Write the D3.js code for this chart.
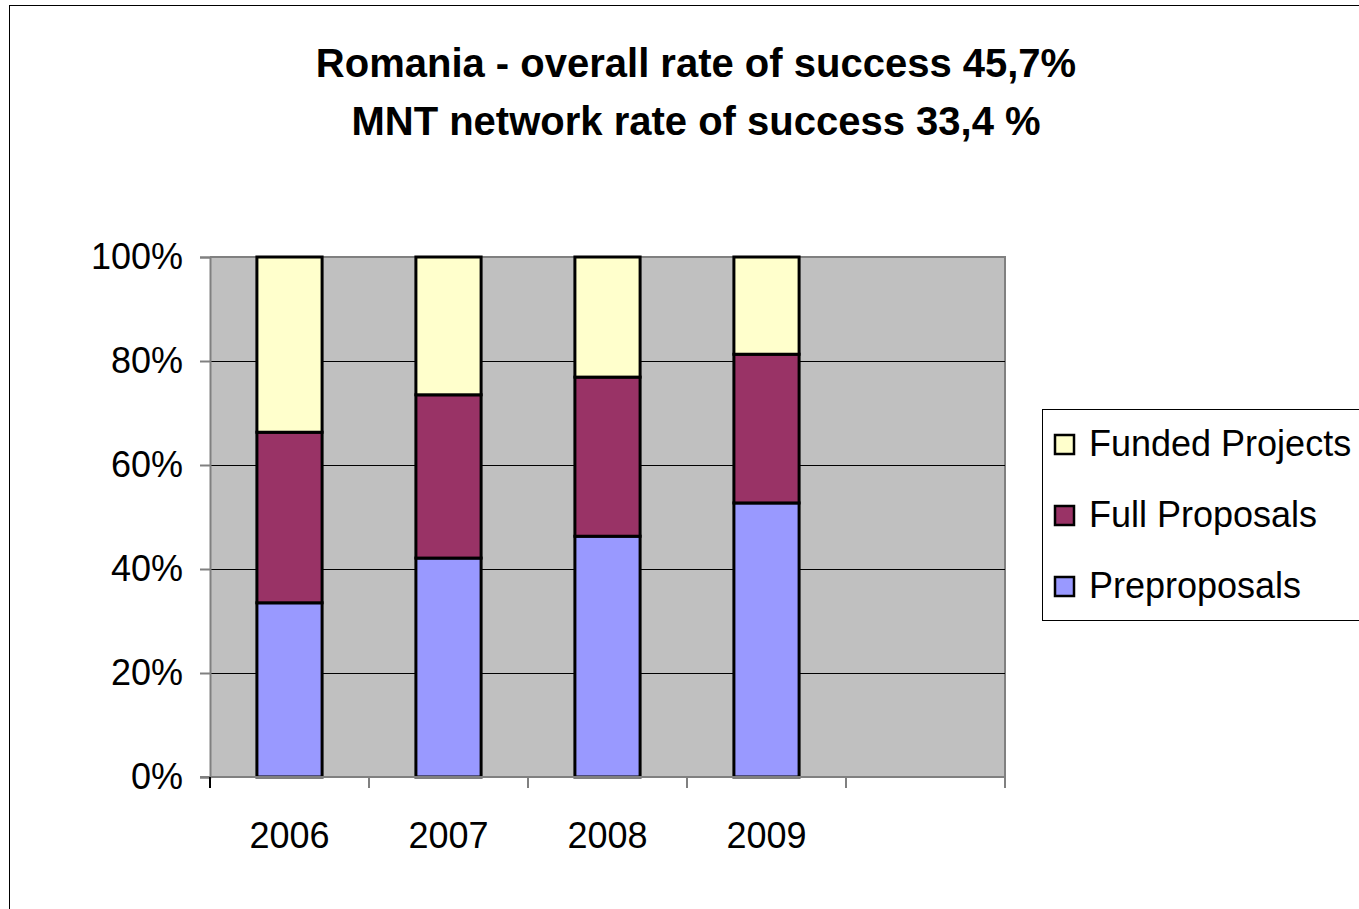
<!DOCTYPE html>
<html>
<head>
<meta charset="utf-8">
<script src="https://cdn.jsdelivr.net/npm/d3@7"></script>
<style>
  body { margin: 0; background: #fff; }
  svg { display: block; font-family: "Liberation Sans", Arial, sans-serif; }
</style>
</head>
<body>
<svg id="chart" width="1359" height="909"></svg>
<script>
// categories (the last slot is empty in the original)
const years = ["2006", "2007", "2008", "2009", ""];
const seriesNames = ["Preproposals", "Full Proposals", "Funded Projects"];
// percentage shares per year
const preproposals   = [33.5, 42.1, 46.3, 52.7];
const fullProposals  = [32.8, 31.4, 30.6, 28.6];
const fundedProjects = [33.7, 26.5, 23.1, 18.7];
const yTicks = [0, 20, 40, 60, 80, 100];
const colors = ["#9999ff", "#993366", "#ffffcc"];

const svg = d3.select("#chart");
const margin = { left: 210, top: 257, right: 1005, bottom: 777 };

// outer frame
svg.append("rect").attr("x", 9.5).attr("y", 5.5)
    .attr("width", 1400).attr("height", 1000)
    .attr("fill", "none").attr("stroke", "#000").attr("stroke-width", 1);

// title
const title = svg.append("text").attr("text-anchor", "middle")
    .attr("font-weight", "bold").attr("font-size", 40);
title.append("tspan").attr("x", 696).attr("y", 77).text("Romania - overall rate of success 45,7%");
title.append("tspan").attr("x", 696).attr("y", 135).text("MNT network rate of success 33,4 %");

const x = d3.scaleBand().domain(d3.range(years.length))
    .range([margin.left, margin.right]).paddingInner(0).paddingOuter(0);
const y = d3.scaleLinear().domain([0, 100]).range([margin.bottom, margin.top]);

// plot background
svg.append("rect").attr("x", margin.left).attr("y", margin.top)
    .attr("width", margin.right - margin.left).attr("height", margin.bottom - margin.top)
    .attr("fill", "#c0c0c0");
svg.append("path")
    .attr("d", `M${margin.left},${margin.top}H${margin.right}V${margin.bottom}`)
    .attr("fill", "none").attr("stroke", "#808080").attr("stroke-width", 2);

// gridlines
svg.append("g").selectAll("line").data(yTicks.filter(d => d > 0 && d < 100)).join("line")
    .attr("x1", margin.left).attr("x2", margin.right)
    .attr("y1", d => Math.round(y(d)) + 0.5).attr("y2", d => Math.round(y(d)) + 0.5)
    .attr("stroke", "#000").attr("stroke-width", 1);

// stacked bars
const rows = preproposals.map((p, i) => ({ i, pre: p, full: fullProposals[i], funded: fundedProjects[i] }));
const stack = d3.stack().keys(["pre", "full", "funded"])(rows);
const barW = x.bandwidth() * 0.41;

svg.append("g").selectAll("g").data(stack).join("g")
    .attr("fill", (d, k) => colors[k])
    .selectAll("rect").data(d => d).join("rect")
    .attr("x", d => x(d.data.i) + (x.bandwidth() - barW) / 2)
    .attr("y", d => y(d[1]))
    .attr("width", barW)
    .attr("height", d => y(d[0]) - y(d[1]))
    .attr("stroke", "#000").attr("stroke-width", 3);

// y axis
const yAxis = svg.append("g").attr("transform", `translate(${margin.left},0)`)
    .call(d3.axisLeft(y).tickValues(yTicks).tickSize(10).tickFormat(d => d + "%"));
yAxis.select(".domain").attr("stroke", "#808080").attr("stroke-width", 2);
yAxis.selectAll(".tick line").attr("stroke", "#808080").attr("stroke-width", 2);
yAxis.selectAll("text").attr("font-size", 36).attr("fill", "#000").attr("x", -27)
    .attr("font-family", "Liberation Sans, Arial, sans-serif");

// x axis with ticks between categories
const xTickPos = d3.range(years.length + 1).map(i => margin.left + i * x.step());
svg.append("line").attr("x1", margin.left - 10).attr("x2", margin.right)
    .attr("y1", margin.bottom).attr("y2", margin.bottom)
    .attr("stroke", "#808080").attr("stroke-width", 2);
svg.append("g").selectAll("line").data(xTickPos).join("line")
    .attr("x1", d => d).attr("x2", d => d)
    .attr("y1", margin.bottom).attr("y2", margin.bottom + 11)
    .attr("stroke", (d, i) => i === 0 ? "#000" : "#808080").attr("stroke-width", 2);
svg.append("g").selectAll("text").data(years).join("text")
    .attr("x", (d, i) => x(i) + x.bandwidth() / 2)
    .attr("y", 848).attr("text-anchor", "middle").attr("font-size", 36)
    .text(d => d);

// legend
const legend = svg.append("g");
legend.append("rect").attr("x", 1042.5).attr("y", 409.5).attr("width", 330).attr("height", 211)
    .attr("fill", "#fff").attr("stroke", "#000").attr("stroke-width", 1);
const legendItems = seriesNames.map((n, k) => ({ n, k })).reverse();
const li = legend.selectAll("g.item").data(legendItems).join("g").attr("class", "item")
    .attr("transform", (d, j) => `translate(1055,${444 + j * 71})`);
li.append("rect").attr("x", 0).attr("y", -9).attr("width", 19).attr("height", 19)
    .attr("fill", d => colors[d.k]).attr("stroke", "#000").attr("stroke-width", 2.5);
li.append("text").attr("x", 34).attr("y", 12).attr("font-size", 36).text(d => d.n);
</script>
</body>
</html>
